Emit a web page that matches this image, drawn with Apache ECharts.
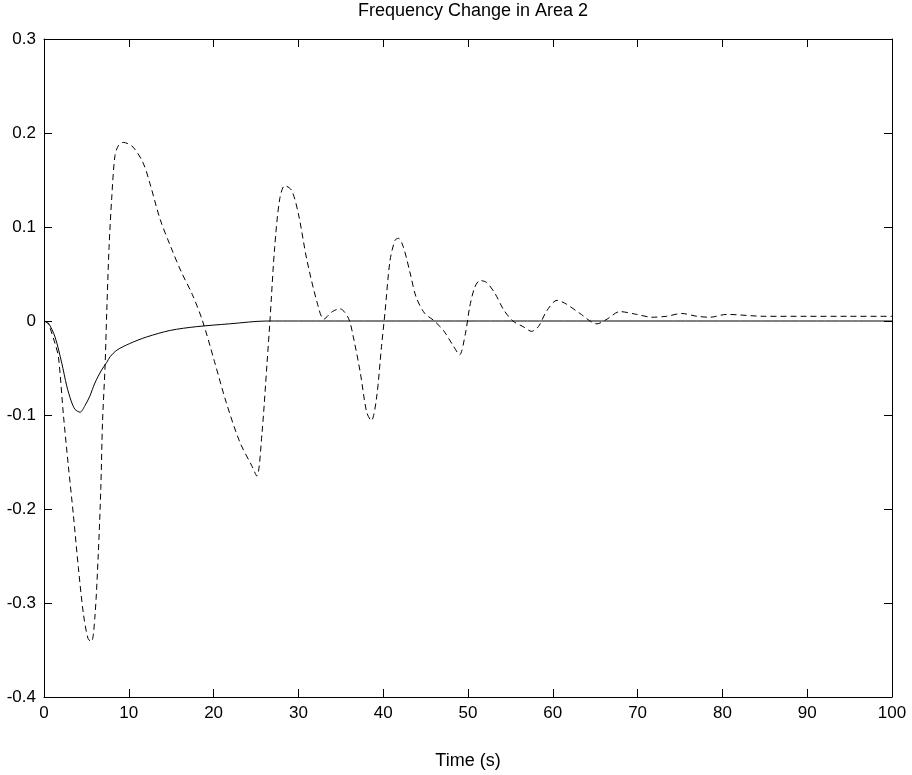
<!DOCTYPE html>
<html>
<head>
<meta charset="utf-8">
<script src="https://cdn.jsdelivr.net/npm/echarts@6/dist/echarts.min.js"></script>
<style>
html,body{margin:0;padding:0;background:#fff;}
#chart{width:912px;height:775px;}
</style>
</head>
<body>
<div id="chart"></div>
<script>
// Data
var titleText = 'Frequency Change in Area 2';
var xLabel = 'Time (s)';
var xTicks = [0, 10, 20, 30, 40, 50, 60, 70, 80, 90, 100];
var yTicks = [-0.4, -0.3, -0.2, -0.1, 0, 0.1, 0.2, 0.3];

var dashedT = [0, 0.5, 1.3, 1.7, 2.3, 2.87, 3.46, 4.05, 4.64, 5.2, 5.6, 6.0, 6.4, 6.7, 6.9, 7.2, 7.4, 7.67, 7.98, 8.37, 8.8, 9.35, 10.5, 11.7, 12.5, 13.7, 14.9, 16.2, 17.5, 18.7, 20.1, 21.5, 23.1, 24.5, 25.1, 25.7, 26.3, 26.65, 27.2, 27.8, 28.4, 29.2, 30.0, 31.0, 32.2, 33.0, 34.0, 34.9, 35.9, 36.5, 37.3, 38.05, 38.6, 39.2, 39.8, 40.2, 40.8, 41.4, 41.8, 42.4, 43.2, 43.9, 44.9, 45.9, 47.1, 48.3, 49.0, 49.7, 50.2, 50.8, 51.4, 52.2, 53.2, 54.2, 55.3, 56.5, 57.5, 58.3, 59.3, 60.5, 61.6, 63.2, 65.2, 66.4, 67.9, 69.9, 71.7, 73.4, 75.2, 77.0, 78.5, 80.5, 85, 90, 95, 100];
var dashedV = [0, -0.003, -0.024, -0.038, -0.101, -0.154, -0.206, -0.262, -0.311, -0.338, -0.341, -0.315, -0.248, -0.178, -0.108, -0.048, 0.01, 0.078, 0.13, 0.176, 0.187, 0.19, 0.185, 0.168, 0.146, 0.108, 0.08, 0.052, 0.028, 0, -0.043, -0.087, -0.129, -0.154, -0.165, -0.12, -0.045, 0.001, 0.078, 0.13, 0.144, 0.139, 0.114, 0.065, 0.02, 0.002, 0.01, 0.013, 0.003, -0.018, -0.055, -0.097, -0.106, -0.083, -0.027, 0.008, 0.064, 0.086, 0.088, 0.078, 0.05, 0.025, 0.008, 0.001, -0.01, -0.027, -0.036, -0.013, 0.015, 0.036, 0.043, 0.041, 0.029, 0.012, 0, -0.006, -0.011, -0.006, 0.011, 0.022, 0.018, 0.008, -0.003, 0.002, 0.01, 0.007, 0.004, 0.005, 0.008, 0.005, 0.004, 0.007, 0.005, 0.005, 0.005, 0.005];

var solidT = [0, 0.5, 1.3, 2.1, 2.68, 3.2, 3.66, 4.25, 4.83, 5.4, 6.0, 6.8, 7.4, 7.8, 8.6, 10.1, 12.1, 14.9, 18.0, 21.9, 26.3, 30, 100];
var solidV = [0, -0.002, -0.017, -0.045, -0.069, -0.085, -0.094, -0.097, -0.09, -0.08, -0.066, -0.052, -0.044, -0.038, -0.031, -0.024, -0.017, -0.01, -0.006, -0.003, 0, 0, 0];

function pairs(t, v) { return t.map(function (x, i) { return [x, v[i]]; }); }

var font = 'Arial, "Liberation Sans", Helvetica, sans-serif';
var chart = echarts.init(document.getElementById('chart'), null, {renderer: 'canvas'});

var axisCommon = {
  axisLine: {show: true, onZero: false, lineStyle: {color: '#000', width: 1}},
  axisTick: {show: true, inside: true, length: 8, lineStyle: {color: '#000', width: 1}},
  splitLine: {show: false}
};

chart.setOption({
  animation: false,
  backgroundColor: '#fff',
  title: {
    text: titleText, left: 468, top: -3, textAlign: 'center',
    textStyle: {fontFamily: font, fontSize: 18, fontWeight: 'normal', color: '#000'}
  },
  grid: {left: 44, right: 20, top: 39, bottom: 70, containLabel: false},
  xAxis: [
    Object.assign({}, axisCommon, {
      type: 'value', position: 'bottom', min: xTicks[0], max: xTicks[xTicks.length - 1], interval: 10,
      name: xLabel, nameLocation: 'middle', nameGap: 55,
      nameTextStyle: {fontFamily: font, fontSize: 18, color: '#000'},
      axisLabel: {fontFamily: font, fontSize: 17, color: '#000', margin: 8}
    }),
    Object.assign({}, axisCommon, {
      type: 'value', position: 'top', min: xTicks[0], max: xTicks[xTicks.length - 1], interval: 10,
      axisLabel: {show: false}
    })
  ],
  yAxis: [
    Object.assign({}, axisCommon, {
      type: 'value', position: 'left', min: yTicks[0], max: yTicks[yTicks.length - 1], interval: 0.1,
      axisLabel: {fontFamily: font, fontSize: 17, color: '#000', margin: 8,
        formatter: function (v) { var r = Math.round(v * 10) / 10; return r === 0 ? '0' : String(r); }}
    }),
    Object.assign({}, axisCommon, {
      type: 'value', position: 'right', min: yTicks[0], max: yTicks[yTicks.length - 1], interval: 0.1,
      axisLabel: {show: false}
    })
  ],
  series: [
    {
      type: 'line', xAxisIndex: 0, yAxisIndex: 0, data: pairs(solidT, solidV),
      showSymbol: false, smooth: 0.3, lineStyle: {color: '#000', width: 1, type: 'solid'}
    },
    {
      type: 'line', xAxisIndex: 0, yAxisIndex: 0, data: pairs(dashedT, dashedV),
      showSymbol: false, smooth: 0.3, lineStyle: {color: '#000', width: 1, type: [6, 4]}
    }
  ]
});
</script>
</body>
</html>
